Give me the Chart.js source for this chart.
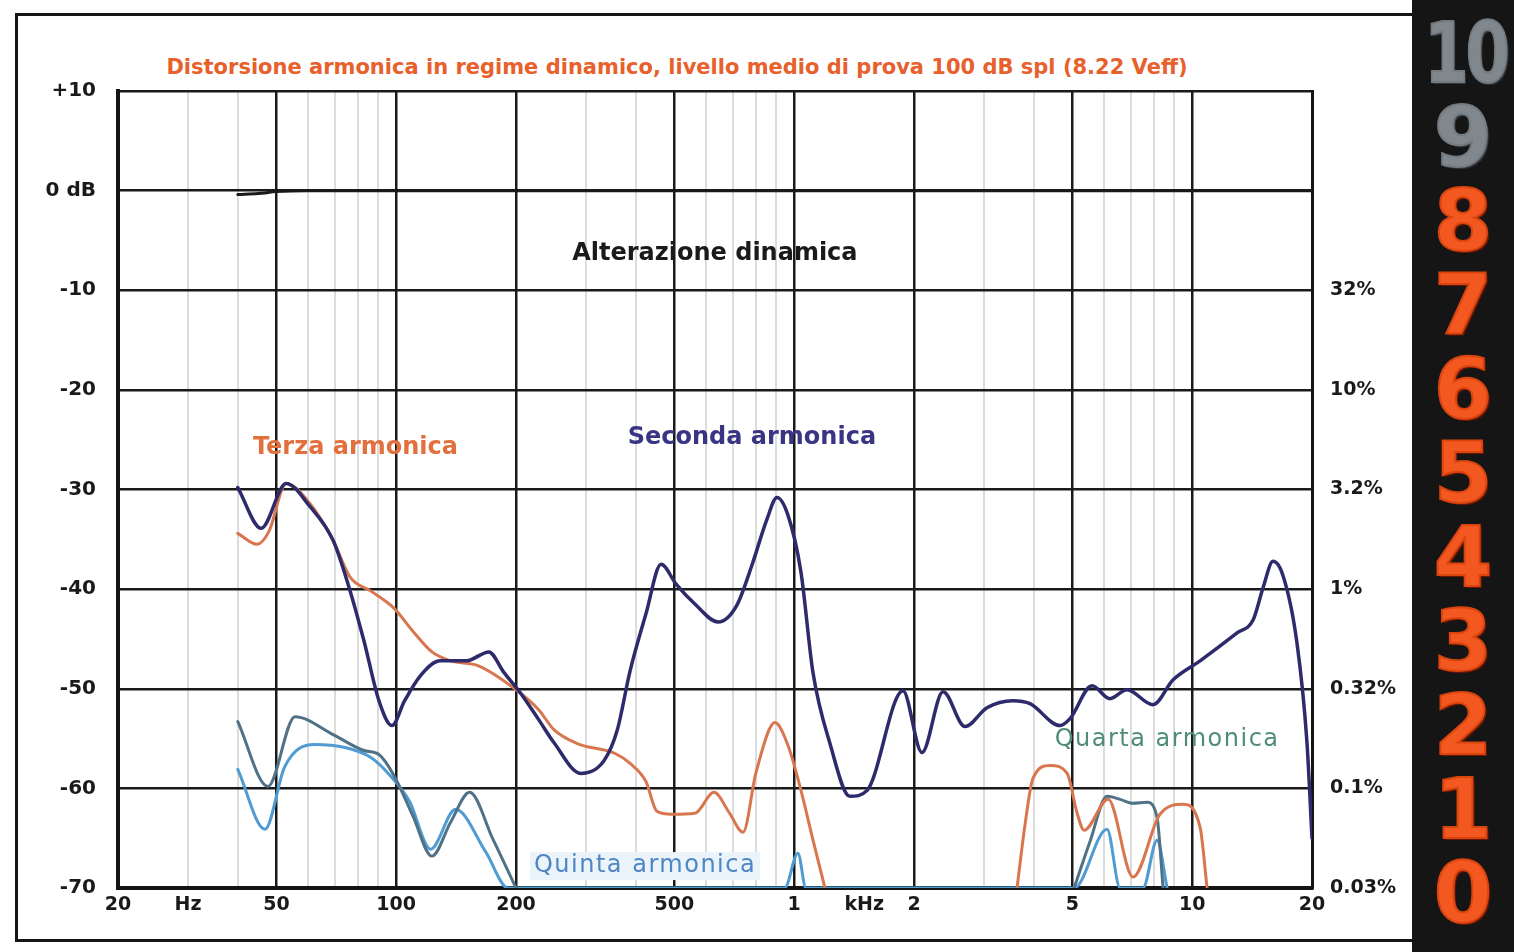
<!DOCTYPE html>
<html>
<head>
<meta charset="utf-8">
<title>Distorsione armonica</title>
<script src="https://cdn.jsdelivr.net/npm/chart.js@4.4.1/dist/chart.umd.min.js"></script>
<style>
  html, body { margin: 0; padding: 0; background: #fff; }
  #wrap { position: relative; width: 1514px; height: 952px; overflow: hidden; background: #fff; }
  #frame { position: absolute; left: 15px; top: 13px; width: 1400px; height: 929px; border: 3px solid #151515; border-right: none; box-sizing: border-box; }
  #titolo { position: absolute; left: 0; top: 55px; width: 1354px; text-align: center; font-family: "DejaVu Sans"; font-weight: bold; font-size: 21px; color: #e8602c; }
  #grafico { position: absolute; left: 0; top: 0; }
  #side { position: absolute; left: 1412px; top: 0; width: 102px; height: 952px; background: #151515; }
  .num { position: absolute; left: 0; width: 102px; text-align: center; font-family: "DejaVu Sans"; font-weight: bold; font-size: 84px; line-height: 84px; color: #f2581f; -webkit-text-stroke: 2px #d9440f; text-shadow: 2px 2px 0 #6a1606; }
  .num.grey { color: #80878d; -webkit-text-stroke: 2px #737a80; text-shadow: 2px 2px 0 #35383b; }
</style>
</head>
<body>
<div id="wrap">
  <div id="frame"></div>
  <div id="titolo">Distorsione armonica in regime dinamico, livello medio di prova 100 dB spl (8.22 Veff)</div>
  <canvas id="grafico" width="1514" height="952"></canvas>
  <div id="side"></div>
</div>
<script>
// Valori: frequenze in Hz, livelli in dB
const frequenzeAlterazione = [40, 45, 50, 60, 100, 200, 500, 1000, 2000, 5000, 10000, 20000];
const livelliAlterazione = [-0.4, -0.3, -0.1, 0, 0, 0, 0, 0, 0, 0, 0, 0];

const frequenzeSeconda = [40, 45.8, 52.9, 60.7, 69.4, 75.7, 83, 90.5, 97.6, 105, 115, 129, 150, 171, 186, 205, 228, 249, 291, 333, 359, 387, 424, 463, 505, 563, 644, 718, 783, 854, 905, 965, 1040, 1115, 1230, 1380, 1525, 1876, 2094, 2366, 2686, 3050, 3546, 3912, 4656, 4932, 5602, 6214, 6856, 7970, 8956, 10466, 12966, 14220, 15060, 15960, 16900, 18320, 19420, 20000];
const livelliSeconda = [-29.8, -33.9, -29.4, -31.7, -35.1, -39.5, -45.2, -51.2, -53.7, -51.2, -48.7, -47.2, -47.2, -46.3, -48.3, -50.4, -53.1, -55.4, -58.5, -57.2, -54.2, -48.2, -42.5, -37.5, -39.5, -41.5, -43.3, -41.6, -37.6, -33.0, -30.8, -32.6, -38.3, -48.4, -55.5, -60.8, -60.2, -50.2, -56.4, -50.3, -53.8, -51.9, -51.2, -51.5, -53.7, -53.0, -49.7, -51.0, -50.1, -51.6, -49.1, -47.2, -44.4, -43.1, -39.9, -37.2, -38.6, -45.3, -55.3, -65];

const frequenzeTerza = [40, 44.7, 47.9, 52.9, 60.7, 69.4, 76.6, 86.4, 98.7, 110, 123, 137, 161, 200, 228, 249, 285, 355, 387, 424, 452, 493, 563, 629, 686, 744, 802, 895, 965, 1040, 1115, 1195, 2000, 3630, 3800, 3980, 4390, 4850, 5140, 5350, 6150, 7100, 8300, 9480, 10466, 10900];
const livelliTerza = [-34.4, -35.5, -34.2, -29.4, -31.4, -35.1, -38.8, -40.2, -41.9, -44.2, -46.3, -47.2, -47.7, -50.1, -52.1, -54.1, -55.5, -56.5, -57.5, -59.3, -62.3, -62.6, -62.5, -60.4, -62.4, -64.4, -58.4, -53.4, -55.7, -60.2, -65.2, -70, null, -70, -63.7, -59.0, -57.7, -58.5, -62.5, -64.2, -61.1, -68.9, -62.6, -61.6, -63.9, -70];

const frequenzeQuarta = [40, 47.6, 55.7, 69.4, 83, 90.5, 98.7, 110, 123, 137, 153, 175, 200, 1000, 5050, 5540, 6110, 6590, 7100, 7700, 8160, 8450];
const livelliQuarta = [-53.3, -59.8, -52.8, -54.6, -56.2, -56.6, -58.7, -62.7, -66.8, -63.4, -60.4, -65.1, -70, null, -70, -65.3, -60.8, -61.1, -61.5, -61.4, -62.9, -70];

const frequenzeQuinta = [40, 46.8, 52.5, 62.2, 74.4, 86.4, 96.5, 108, 122, 141, 168, 191, 946, 1022, 1070, 5050, 6110, 6590, 7520, 8160, 8650];
const livelliQuinta = [-58.1, -64.1, -57.8, -55.6, -55.9, -56.9, -58.7, -61.3, -66.1, -62.1, -66.4, -70, -70, -66.5, -70, -70, -64.1, -70, -70, -65.2, -70];

// Assi
const frequenzeGriglia = [20, 30, 40, 50, 60, 70, 80, 90, 100, 200, 300, 400, 500, 600, 700, 800, 900, 1000, 1500, 2000, 3000, 4000, 5000, 6000, 7000, 8000, 9000, 10000, 20000];
const frequenzeEtichette = [20, 30, 50, 100, 200, 500, 1000, 1500, 2000, 5000, 10000, 20000];
const testiFrequenze = ["20", "Hz", "50", "100", "200", "500", "1", "kHz", "2", "5", "10", "20"];
const frequenzePrincipali = [20, 50, 100, 200, 500, 1000, 2000, 5000, 10000, 20000];
const livelliTick = [10, 0, -10, -20, -30, -40, -50, -60, -70];
const testiLivelli = ["+10", "0 dB", "-10", "-20", "-30", "-40", "-50", "-60", "-70"];
const livelliPercentuali = [-10, -20, -30, -40, -50, -60, -70];
const testiPercentuali = ["32%", "10%", "3.2%", "1%", "0.32%", "0.1%", "0.03%"];
const numeriLaterali = ["10", "9", "8", "7", "6", "5", "4", "3", "2", "1", "0"];

// Etichette delle curve (posizione in Hz / dB)
const etichette = [
  { testo: "Alterazione dinamica", f: 632, db: -6.3, colore: "#1a1a1a", peso: "bold", spazio: 0, sfondo: null },
  { testo: "Terza armonica", f: 79, db: -25.8, colore: "#e2703e", peso: "bold", spazio: 0, sfondo: null },
  { testo: "Seconda armonica", f: 783, db: -24.8, colore: "#3a3484", peso: "bold", spazio: 0, sfondo: null },
  { testo: "Quarta armonica", f: 8650, db: -55.1, colore: "#4f8c7c", peso: "normal", spazio: 1.5, sfondo: null },
  { testo: "Quinta armonica", f: 422, db: -67.8, colore: "#4f86c4", peso: "normal", spazio: 1.5, sfondo: "#eaf4fa" },
];

function punti(frequenze, livelli) {
  return frequenze.map((f, i) => ({ x: f, y: livelli[i] }));
}

// Numeri della barra laterale
const side = document.getElementById("side");
numeriLaterali.forEach((n, i) => {
  const d = document.createElement("div");
  d.className = "num" + (i < 2 ? " grey" : "");
  d.textContent = n;
  d.style.top = (11 + i * 84) + "px";
  if (n === "10") {
    d.style.transform = "scaleX(0.76)";
    d.style.letterSpacing = "-4px";
  }
  side.appendChild(d);
});

const pluginEtichette = {
  id: "etichette",
  afterDatasetsDraw(chart) {
    const { ctx, scales } = chart;
    ctx.save();
    etichette.forEach((e) => {
      const px = scales.x.getPixelForValue(e.f);
      const py = scales.y.getPixelForValue(e.db);
      ctx.font = e.peso + ' 24px "DejaVu Sans"';
      ctx.letterSpacing = e.spazio + "px";
      ctx.textAlign = "center";
      ctx.textBaseline = "middle";
      if (e.sfondo) {
        const w = ctx.measureText(e.testo).width;
        ctx.fillStyle = e.sfondo;
        ctx.fillRect(px - w / 2 - 4, py - 14, w + 8, 28);
      }
      ctx.fillStyle = e.colore;
      ctx.fillText(e.testo, px, py);
    });
    ctx.restore();
  },
};

function coloreGrigliaX(ctx) {
  const v = ctx.tick ? ctx.tick.value : null;
  if (v === 1500) return "rgba(0,0,0,0)";
  if (frequenzePrincipali.includes(v)) return "#1a1a1a";
  return "#dcdcdc";
}

const ctx = document.getElementById("grafico").getContext("2d");
new Chart(ctx, {
  type: "line",
  data: {
    datasets: [
      { label: "Alterazione dinamica", data: punti(frequenzeAlterazione, livelliAlterazione), borderColor: "#1a1a1a", borderWidth: 3 },
      { label: "Seconda armonica", data: punti(frequenzeSeconda, livelliSeconda), borderColor: "#2e2b6c", borderWidth: 3.5 },
      { label: "Terza armonica", data: punti(frequenzeTerza, livelliTerza), borderColor: "#d8774f", borderWidth: 3 },
      { label: "Quarta armonica", data: punti(frequenzeQuarta, livelliQuarta), borderColor: "#4f7287", borderWidth: 3 },
      { label: "Quinta armonica", data: punti(frequenzeQuinta, livelliQuinta), borderColor: "#4f9bd2", borderWidth: 3 },
    ],
  },
  options: {
    responsive: false,
    animation: false,
    spanGaps: false,
    layout: { padding: { top: 91, left: 0, right: 0, bottom: 0 } },
    elements: {
      point: { radius: 0 },
      line: { cubicInterpolationMode: "monotone", borderCapStyle: "round", borderJoinStyle: "round" },
    },
    plugins: {
      legend: { display: false },
      tooltip: { enabled: false },
    },
    scales: {
      x: {
        type: "logarithmic",
        min: 20,
        max: 20000,
        afterBuildTicks: (s) => { s.ticks = frequenzeGriglia.map((v) => ({ value: v })); },
        afterFit: (s) => { s.height = 64; },
        grid: {
          color: coloreGrigliaX,
          lineWidth: (c) => (c.tick && frequenzePrincipali.includes(c.tick.value) ? 2.5 : 2),
          drawTicks: false,
        },
        border: { color: "#151515", width: 4 },
        ticks: {
          autoSkip: false,
          maxRotation: 0,
          padding: 6,
          color: "#1a1a1a",
          font: { family: "DejaVu Sans", weight: "bold", size: 19 },
          callback: function (value) {
            const i = frequenzeEtichette.indexOf(value);
            return i >= 0 ? testiFrequenze[i] : "";
          },
        },
      },
      y: {
        min: -70,
        max: 10,
        afterBuildTicks: (s) => { s.ticks = livelliTick.map((v) => ({ value: v })); },
        afterFit: (s) => { s.width = 118; },
        grid: { color: "#1a1a1a", lineWidth: 2.5, drawTicks: false },
        border: { color: "#151515", width: 4 },
        ticks: {
          padding: 22,
          color: "#1a1a1a",
          font: { family: "DejaVu Sans", weight: "bold", size: 20 },
          callback: function (value) {
            const i = livelliTick.indexOf(value);
            return i >= 0 ? testiLivelli[i] : "";
          },
        },
      },
      y2: {
        position: "right",
        min: -70,
        max: 10,
        afterBuildTicks: (s) => { s.ticks = livelliPercentuali.map((v) => ({ value: v })); },
        afterFit: (s) => { s.width = 202; },
        grid: { display: false, drawTicks: false },
        border: { color: "#151515", width: 3 },
        ticks: {
          padding: 18,
          color: "#1a1a1a",
          font: { family: "DejaVu Sans", weight: "bold", size: 19 },
          callback: function (value) {
            const i = livelliPercentuali.indexOf(value);
            return i >= 0 ? testiPercentuali[i] : "";
          },
        },
      },
    },
  },
  plugins: [pluginEtichette],
});
</script>
</body>
</html>
